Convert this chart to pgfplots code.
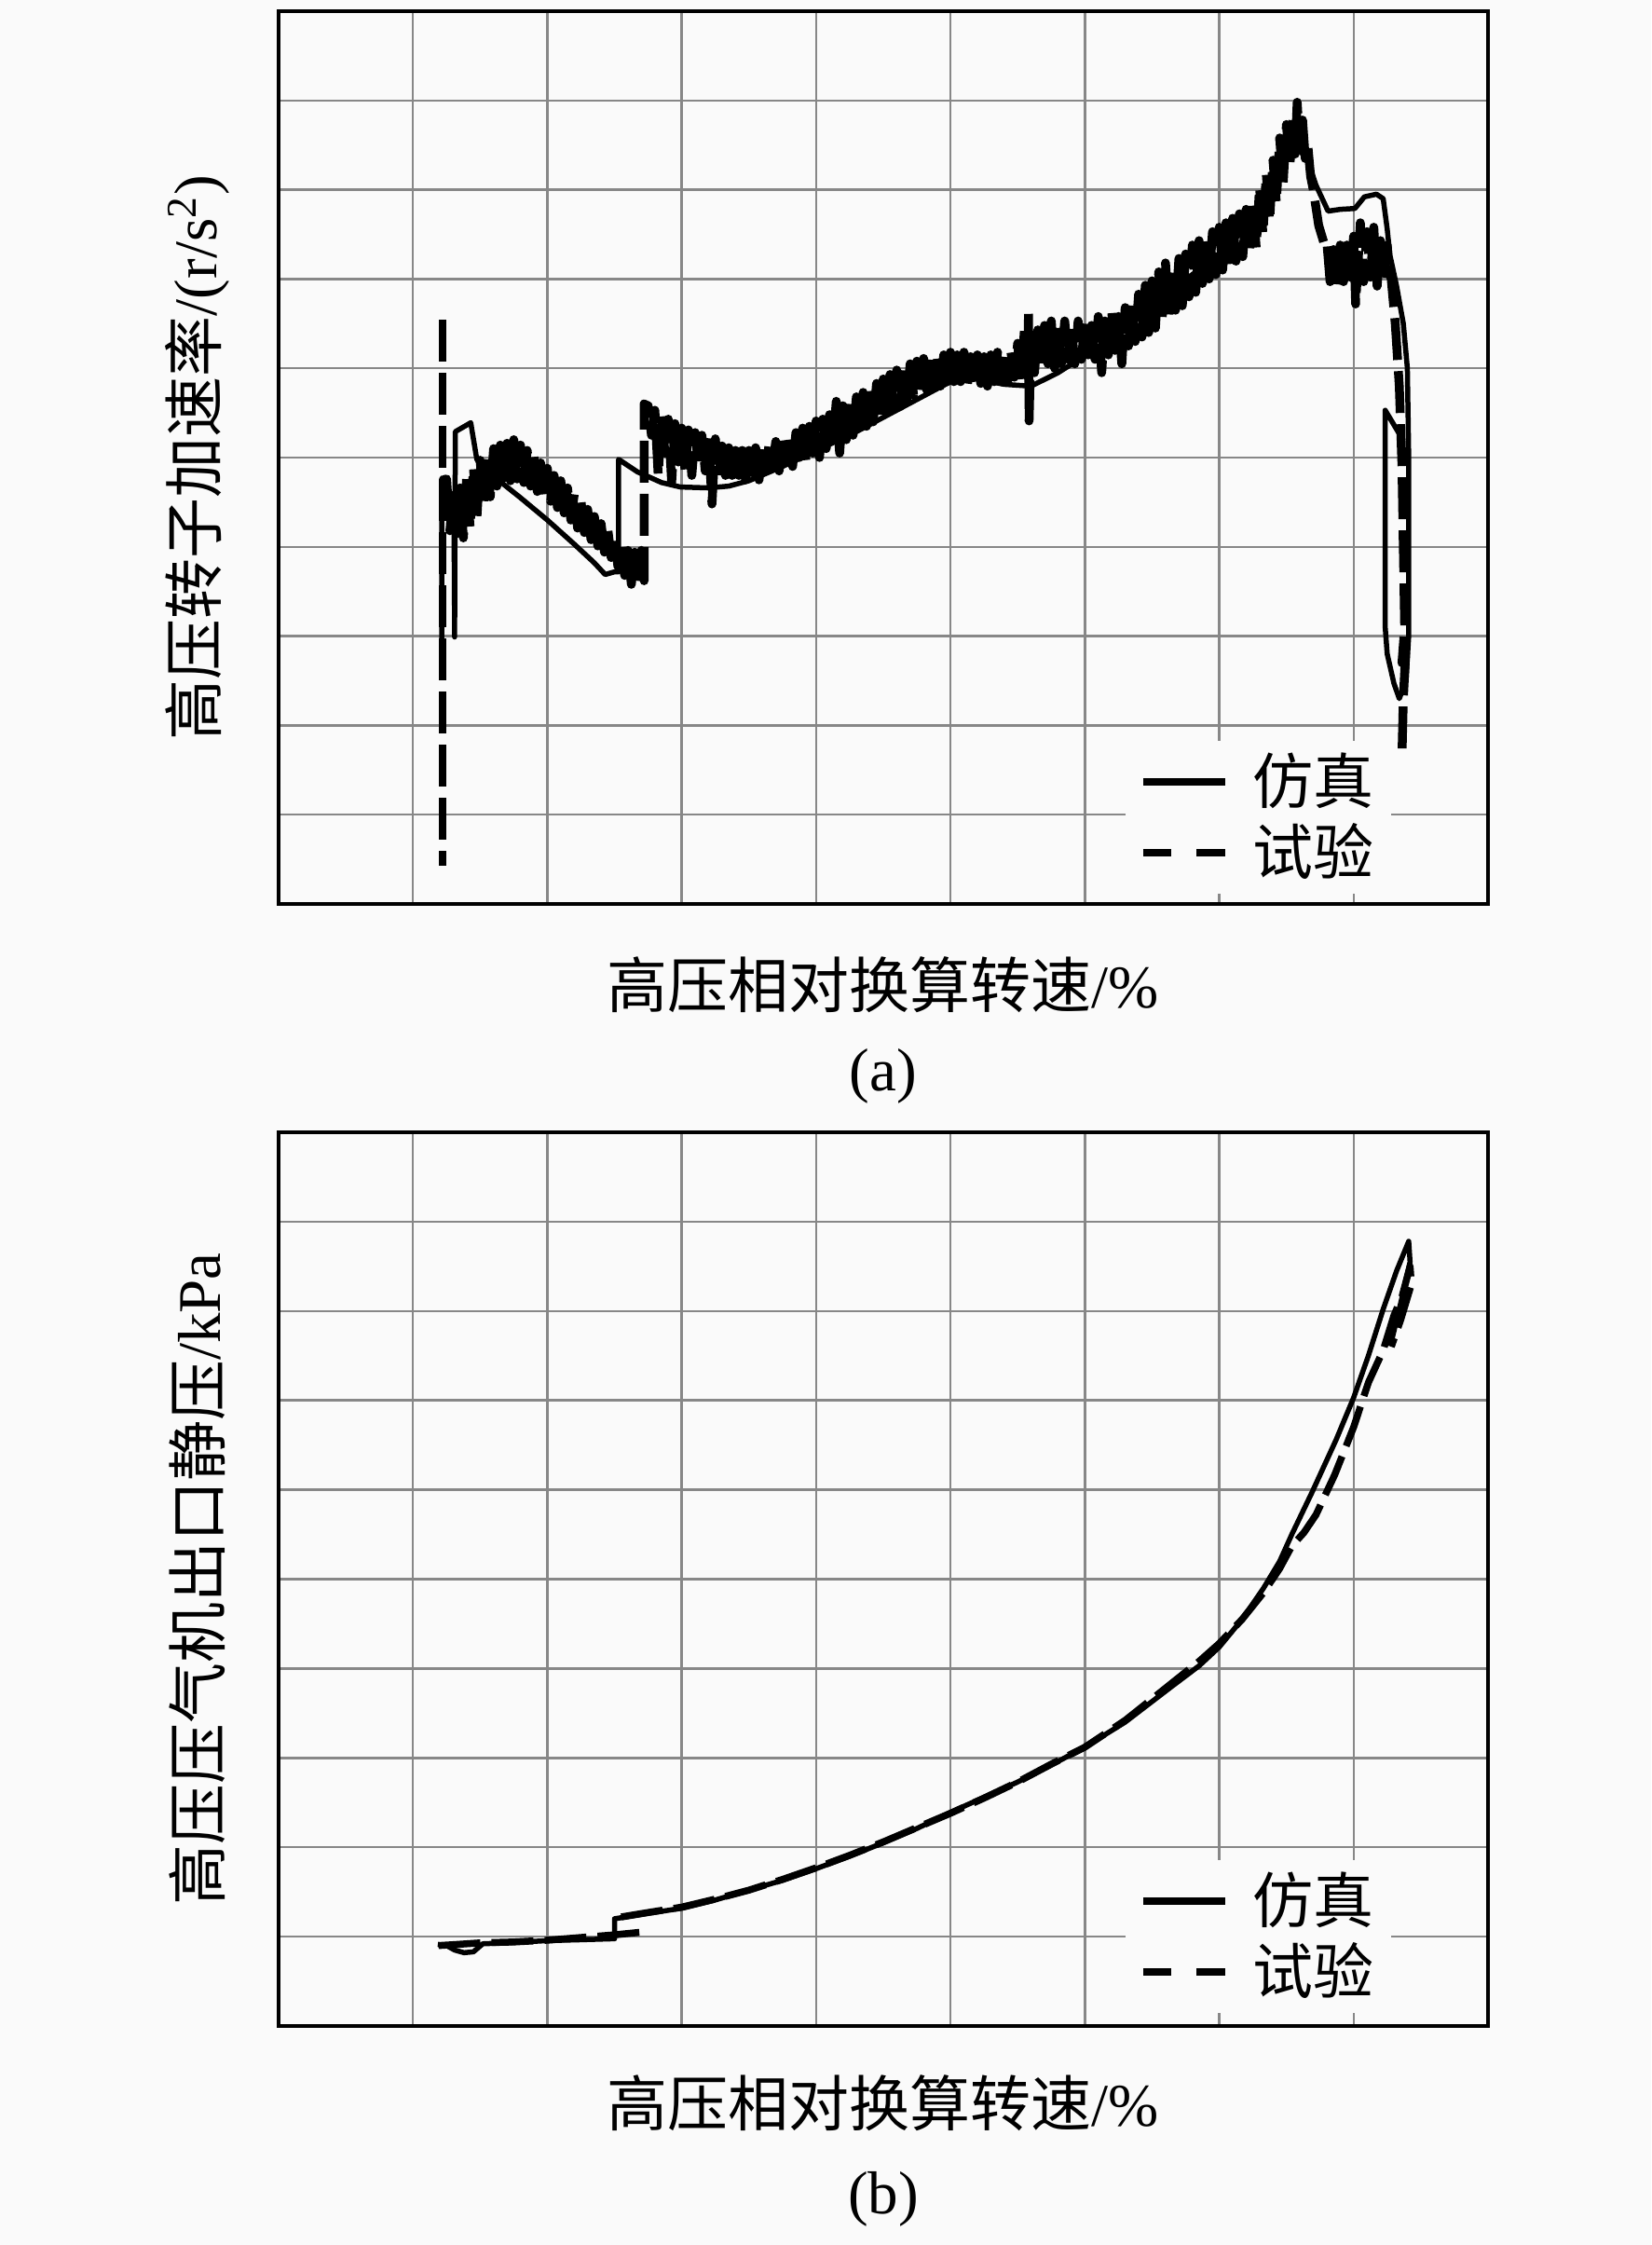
\documentclass[border=0pt]{standalone}
\usepackage{fontspec}
\setmainfont{Liberation Serif}
\newfontfamily\cjk{Noto Sans CJK SC}
\usepackage{pgfplots}
\pgfplotsset{compat=1.18}
\definecolor{bg}{RGB}{250,250,250}
\definecolor{gridc}{RGB}{135,135,135}
\pgfplotsset{
  myaxis/.style={scale only axis, width=259.6pt,
    xmin=0, xmax=9, ymin=0, ymax=10,
    xtick={0,...,9}, ytick={0,...,10},
    xticklabels={}, yticklabels={}, major tick length=0pt,
    grid=major, major grid style={gridc, line width=0.5pt},
    axis line style={line width=0.9pt},
    legend style={draw=none, fill=bg, font=\fontsize{13}{15}\selectfont\cjk,
      row sep=1.5pt, nodes={inner sep=0.6pt},
      /tikz/every odd column/.append style={column sep=4.6pt}},
    legend cell align=left,
    legend image code/.code={\draw[#1, line width=1.5pt] (0pt,0pt) -- (17.6pt,0pt);},
    label style={font=\fontsize{13}{15}\selectfont}},
  sim/.style={black, line width=1.1pt, line join=round},
  expa/.style={black, line width=1.4pt, dash pattern=on 9pt off 2.4pt, line join=round,
    legend image code/.code={\draw[black, line width=1.5pt, dash pattern=on 6.1pt off 5.4pt] (0pt,0pt) -- (17.6pt,0pt);}},
}
\begin{document}
\begin{tikzpicture}
\path[use as bounding box, fill=bg] (0,0) rectangle (354.4pt,481.8pt);
% ---------------- (a) ----------------
\begin{axis}[myaxis, at={(59.8pt,287.8pt)}, anchor=south west, height=191.6pt,
  xlabel={{\cjk 高压相对换算转速}/\%},
  xlabel style={at={(axis description cs:0.5,-0.09)}, anchor=center},
  ylabel={{\cjk 高压转子加速率}/(r/s\textsuperscript{2})},
  ylabel style={at={(axis description cs:-0.067,0.5)}, anchor=center},
  legend style={at={(axis description cs:0.81,0.097)}, anchor=center}]
\addplot[sim] coordinates {
(1.215,2.65) (1.215,4.77) (1.24,4.72) (1.27,4.5) (1.305,4.4) (1.31,2.99) (1.315,5.29)
(1.43,5.39) (1.475,4.98) (1.55,4.85) (1.65,4.73) (1.8,4.55) (2.0,4.3) (2.2,4.03)
(2.35,3.82) (2.43,3.69) (2.50,3.72) (2.53,3.72) (2.53,4.98) (2.67,4.84) (2.85,4.72)
(2.99,4.67) (3.2,4.66) (3.35,4.68) (3.5,4.74) (3.75,4.9) (4.0,5.08) (4.25,5.25)
(4.5,5.45) (4.75,5.65) (5.0,5.85) (5.2,5.88) (5.4,5.82) (5.6,5.8) (5.8,5.95)
(6.0,6.14) (6.3,6.45) (6.6,6.8) (6.8,7.05) (7.0,7.27) (7.15,7.5) (7.27,7.73)
(7.4,8.05) (7.52,8.39) (7.59,8.46) (7.66,8.32) (7.72,8.05) (7.81,7.76) (7.9,7.78)
(8.01,7.79) (8.08,7.92) (8.17,7.95) (8.22,7.9) (8.25,7.56) (8.27,7.27) (8.32,6.92)
(8.37,6.5) (8.40,6.0) (8.41,5.0) (8.41,3.0) (8.39,2.5) (8.34,2.3) (8.30,2.47)
(8.25,2.8) (8.235,3.1) (8.235,5.53) (8.37,5.19)
};
\addlegendentry{仿真}
\addplot[expa, line width=1.9pt] coordinates {
(1.225,4.75)
(1.25,4.76) (1.275,4.18) (1.30,4.66) (1.325,4.1) (1.35,4.66) (1.375,4.1)
(1.40,4.79) (1.425,4.21) (1.45,4.89) (1.475,4.31) (1.50,4.97) (1.525,4.46)
(1.55,5.04) (1.575,4.56) (1.60,5.1) (1.625,4.68) (1.65,5.14) (1.675,4.72)
(1.70,5.16) (1.725,4.74) (1.75,5.2) (1.775,4.76) (1.80,5.14) (1.825,4.72)
(1.85,5.08) (1.875,4.68) (1.90,5.02) (1.925,4.62) (1.95,4.94) (1.975,4.56)
(2.00,4.88) (2.025,4.51) (2.05,4.8) (2.075,4.44) (2.10,4.74) (2.125,4.38)
(2.15,4.66) (2.175,4.3) (2.20,4.59) (2.225,4.21) (2.25,4.52) (2.275,4.16)
(2.30,4.42) (2.325,4.08) (2.35,4.34) (2.375,4.01) (2.40,4.26) (2.425,3.94)
(2.45,4.19) (2.475,3.88) (2.50,4.12) (2.525,3.78) (2.55,4.04) (2.575,3.68)
(2.60,3.96) (2.625,3.58) (2.65,3.94) (2.675,3.56) (2.70,3.96) (2.72,3.62)
(2.72,5.6)
(2.75,5.58) (2.775,5.25) (2.80,5.53) (2.825,4.8) (2.85,5.48) (2.875,5.05)
(2.90,5.43) (2.925,4.72) (2.95,5.38) (2.975,4.95) (3.00,5.33) (3.025,4.85)
(3.05,5.31) (3.075,4.8) (3.10,5.28) (3.125,4.9) (3.15,5.25) (3.175,4.85)
(3.20,5.23) (3.225,4.48) (3.25,5.21) (3.275,4.8) (3.30,5.13) (3.325,4.8)
(3.35,5.11) (3.375,4.8) (3.40,5.08) (3.425,4.8) (3.45,5.08) (3.475,4.75)
(3.50,5.08) (3.525,4.83) (3.55,5.11) (3.575,4.75) (3.60,5.13) (3.625,4.85)
(3.65,5.15) (3.675,4.9) (3.70,5.18) (3.725,4.85) (3.75,5.23) (3.775,4.95)
(3.80,5.25) (3.825,4.9) (3.85,5.28) (3.875,5.0) (3.90,5.33) (3.925,4.95)
(3.95,5.35) (3.975,5.05) (4.00,5.41) (4.025,5.0) (4.05,5.43) (4.075,5.1)
(4.10,5.48) (4.125,5.15) (4.15,5.63) (4.175,5.05) (4.20,5.58) (4.225,5.2)
(4.25,5.63) (4.275,5.25) (4.30,5.68) (4.325,5.3) (4.35,5.73) (4.375,5.35)
(4.40,5.78) (4.425,5.4) (4.45,5.83) (4.475,5.45) (4.50,5.88) (4.525,5.5)
(4.55,5.93) (4.575,5.55) (4.60,5.98) (4.625,5.57) (4.65,6.03) (4.675,5.65)
(4.70,6.05) (4.725,5.7) (4.75,6.08) (4.775,5.75) (4.80,6.11) (4.825,5.75)
(4.85,6.13) (4.875,5.8) (4.90,6.13) (4.925,5.8) (4.95,6.15) (4.975,5.85)
(5.00,6.18) (5.025,5.85) (5.05,6.15) (5.075,5.85) (5.10,6.18) (5.125,5.8)
(5.15,6.13) (5.175,5.85) (5.20,6.15) (5.225,5.83) (5.25,6.13) (5.275,5.8)
(5.30,6.15) (5.325,5.85) (5.35,6.18) (5.375,5.85) (5.40,6.18) (5.425,5.85)
(5.45,6.18) (5.475,5.9) (5.50,6.28) (5.525,5.85) (5.55,6.43) (5.575,5.9)
(5.58,6.64) (5.585,5.41) (5.60,6.38) (5.625,5.95) (5.65,6.43) (5.675,6.0)
(5.70,6.48) (5.725,6.05) (5.75,6.53) (5.775,6.0) (5.80,6.48) (5.825,6.05)
(5.85,6.53) (5.875,6.1) (5.90,6.48) (5.925,6.05) (5.95,6.53) (5.975,6.1)
(6.00,6.53) (6.025,6.15) (6.05,6.48) (6.075,6.1) (6.10,6.58) (6.125,5.95)
(6.15,6.53) (6.175,6.15) (6.20,6.63) (6.225,6.2) (6.25,6.58) (6.275,6.05)
(6.30,6.68) (6.325,6.25) (6.35,6.73) (6.375,6.3) (6.40,6.83) (6.425,6.35)
(6.45,6.93) (6.475,6.4) (6.50,6.98) (6.525,6.45) (6.55,7.08) (6.575,6.55)
(6.60,7.18) (6.625,6.6) (6.65,7.13) (6.675,6.65) (6.70,7.23) (6.725,6.7)
(6.75,7.28) (6.775,6.8) (6.80,7.38) (6.825,6.85) (6.85,7.43) (6.875,6.95)
(6.90,7.48) (6.925,7.0) (6.95,7.53) (6.975,7.05) (7.00,7.58) (7.025,7.1)
(7.05,7.63) (7.075,7.15) (7.10,7.68) (7.125,7.2) (7.15,7.73) (7.175,7.25)
(7.20,7.78) (7.225,7.3) (7.25,7.88) (7.275,7.35) (7.30,8.03) (7.325,7.5)
(7.35,8.18) (7.375,7.65) (7.40,8.33) (7.425,7.85) (7.45,8.58) (7.475,8.05)
(7.50,8.73) (7.525,8.25) (7.55,8.83) (7.565,8.4) (7.58,8.98) (7.60,8.45)
(7.62,8.78) (7.64,8.35) (7.66,8.48) (7.68,8.15)
(7.70,8.0) (7.74,7.6) (7.78,7.4)
(7.80,7.43) (7.825,6.97) (7.85,7.33) (7.875,6.92) (7.90,7.38) (7.925,6.97)
(7.95,7.38) (7.975,7.02) (8.00,7.48) (8.015,6.72) (8.05,7.63) (8.075,6.97)
(8.10,7.53) (8.125,7.02) (8.15,7.58) (8.175,6.92) (8.20,7.43) (8.225,6.97)
(8.25,7.38) (8.265,7.07)
(8.28,7.0) (8.31,6.5) (8.34,5.8) (8.36,4.9) (8.37,4.0) (8.38,3.1) (8.36,2.7)
(8.39,2.9) (8.37,2.3) (8.36,1.67)
};
\addlegendentry{试验}
\addplot[expa, line width=1.5pt, forget plot] coordinates {(1.22,6.54) (1.22,0.43)};
\end{axis}
\node[font=\fontsize{13}{15}\selectfont] at (189.6pt,250.8pt) {(a)};
% ---------------- (b) ----------------
\begin{axis}[myaxis, at={(59.8pt,47pt)}, anchor=south west, height=191.8pt,
  xlabel={{\cjk 高压相对换算转速}/\%},
  xlabel style={at={(axis description cs:0.5,-0.0866)}, anchor=center},
  ylabel={{\cjk 高压压气机出口静压}/kPa},
  ylabel style={at={(axis description cs:-0.067,0.5)}, anchor=center},
  legend style={at={(axis description cs:0.81,0.1)}, anchor=center}]
\addplot[sim] coordinates {
(1.185,0.913) (1.25,0.9) (1.31,0.85) (1.38,0.82) (1.45,0.83) (1.52,0.92) (1.7,0.93)
(2.0,0.955) (2.25,0.965) (2.47,0.975) (2.50,0.975) (2.50,1.2) (2.75,1.26) (3.01,1.32)
(3.25,1.41) (3.5,1.52) (3.75,1.63) (4.0,1.76) (4.25,1.9) (4.5,2.05) (4.75,2.21)
(5.0,2.39) (5.25,2.56) (5.5,2.73) (5.75,2.92) (6.0,3.12) (6.3,3.4) (6.63,3.78)
(6.85,4.03) (7.0,4.24) (7.17,4.55) (7.33,4.9) (7.45,5.2) (7.54,5.5) (7.69,5.97)
(7.87,6.56) (8.0,7.03) (8.11,7.5) (8.22,8.02) (8.32,8.45) (8.41,8.78) (8.42,8.55)
(8.36,8.15) (8.28,7.65)
};
\addlegendentry{仿真}
\addplot[expa, line width=1.5pt] coordinates {
(1.19,0.9) (1.3,0.91) (1.5,0.93) (1.75,0.94) (2.0,0.96) (2.25,0.99) (2.5,1.02) (2.7,1.05)
};
\addlegendentry{试验}
\addplot[expa, line width=1.5pt, forget plot] coordinates {
(2.55,1.22) (2.75,1.27) (3.0,1.33) (3.25,1.42) (3.5,1.52) (3.75,1.64) (4.0,1.77)
(4.25,1.91) (4.5,2.06) (4.75,2.22) (5.0,2.38) (5.25,2.55) (5.5,2.73) (5.75,2.93)
(6.0,3.12) (6.3,3.42) (6.6,3.78) (6.85,4.08) (7.0,4.28) (7.17,4.55) (7.33,4.85)
(7.45,5.12) (7.54,5.37) (7.63,5.52) (7.72,5.72) (7.86,6.17) (8.0,6.7) (8.11,7.2)
(8.22,7.56) (8.30,7.95) (8.36,8.16) (8.42,8.5) (8.43,8.3) (8.35,7.9) (8.28,7.6)
};
\end{axis}
\node[font=\fontsize{13}{15}\selectfont] at (189.6pt,9.8pt) {(b)};
\end{tikzpicture}
\end{document}
